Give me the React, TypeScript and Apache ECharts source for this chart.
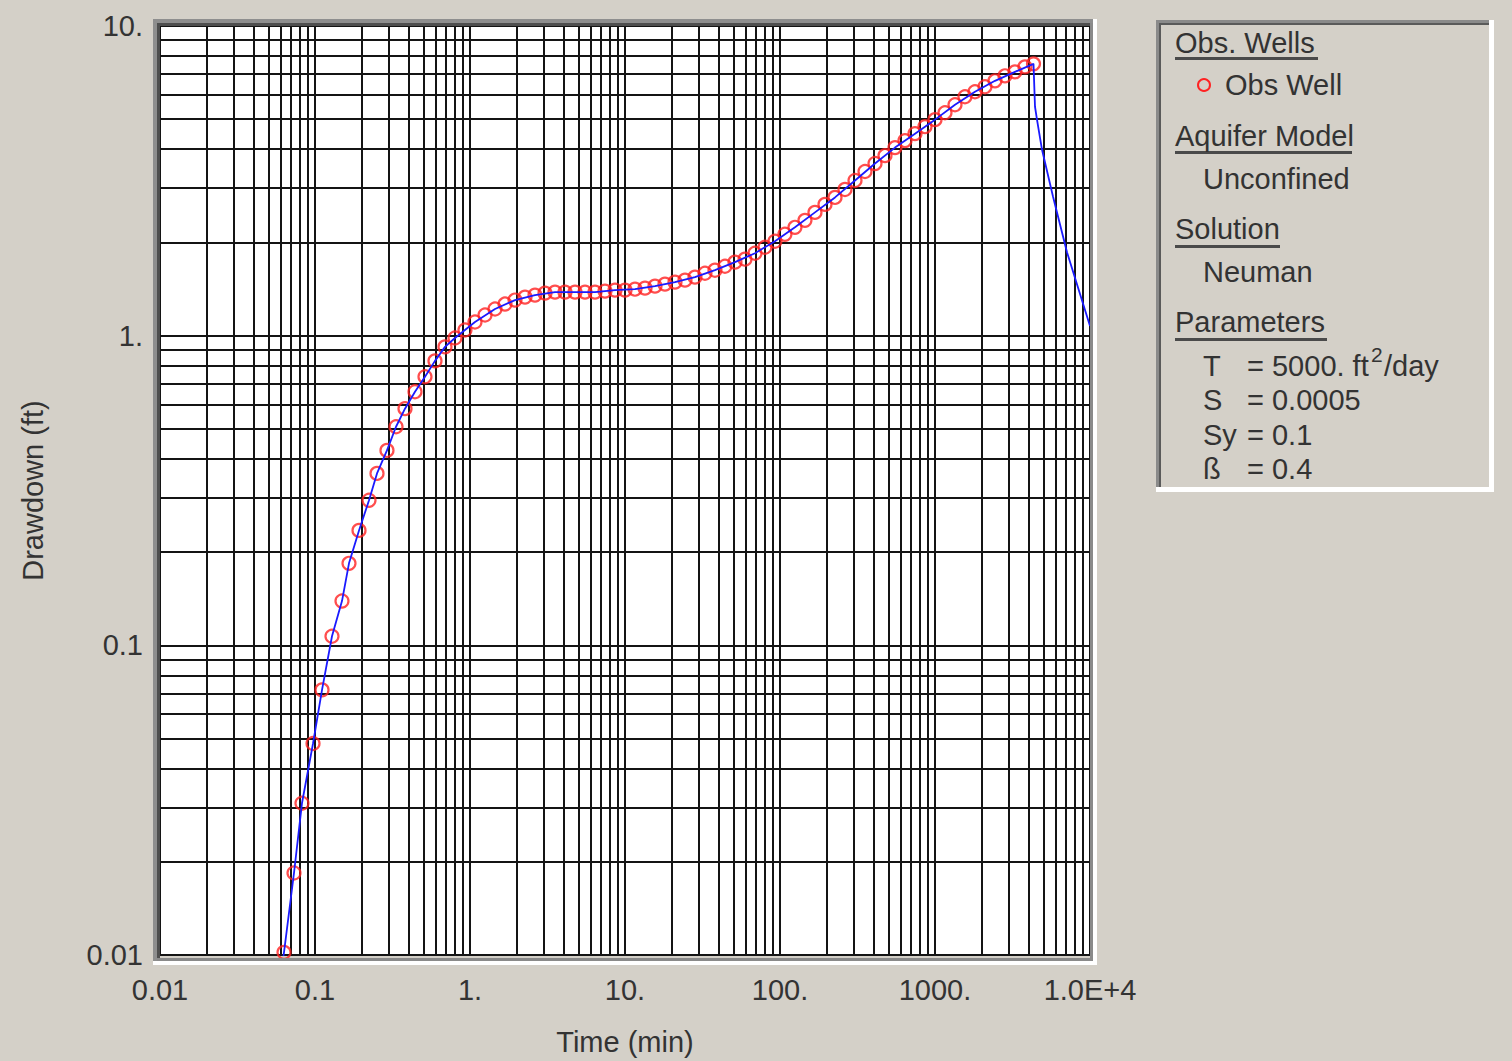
import React, { useEffect, useRef } from "react";
import * as echarts from "echarts";

// ---- data ----
const obsTime = [
  0.0631, 0.0732, 0.0824, 0.0971, 0.111, 0.1287, 0.1493, 0.1657, 0.1923, 0.2231,
  0.2512, 0.2913, 0.3332, 0.3807, 0.4417, 0.5124, 0.5945, 0.6897, 0.8, 0.928,
  1.077, 1.25, 1.45, 1.682, 1.951, 2.264, 2.626, 3.047, 3.535, 4.101,
  4.758, 5.52, 6.404, 7.429, 8.619, 10.0, 11.6, 13.46, 15.61, 18.11,
  21.01, 24.38, 28.28, 32.81, 38.06, 44.16, 51.23, 59.43, 68.94, 79.98,
  92.79, 107.6, 124.9, 144.9, 168.1, 195.1, 226.4, 262.6, 304.7, 353.5,
  410.1, 475.8, 552.0, 640.4, 742.9, 861.9, 1000, 1160, 1346, 1561,
  1811, 2101, 2438, 2828, 3281, 3806, 4320,
];
const obsDrawdown = [
  0.0102, 0.0184, 0.0309, 0.0482, 0.0718, 0.107, 0.139, 0.184, 0.235, 0.294,
  0.359, 0.426, 0.508, 0.581, 0.659, 0.737, 0.829, 0.92, 0.983, 1.043,
  1.107, 1.166, 1.219, 1.265, 1.303, 1.332, 1.352, 1.372, 1.382, 1.382,
  1.382, 1.382, 1.382, 1.393, 1.403, 1.403, 1.413, 1.424, 1.445, 1.467,
  1.489, 1.511, 1.545, 1.591, 1.627, 1.676, 1.727, 1.766, 1.846, 1.93,
  2.018, 2.125, 2.238, 2.357, 2.501, 2.654, 2.795, 2.966, 3.17, 3.389,
  3.596, 3.816, 4.049, 4.265, 4.491, 4.73, 4.984, 5.248, 5.568, 5.909,
  6.133, 6.364, 6.653, 6.904, 7.11, 7.379, 7.546,
];

// fitted Neuman curve (pumping + recovery)
const curveTime = [
  0.0618, 0.0631, 0.0732, 0.0824, 0.0971, 0.111, 0.1287, 0.1493, 0.1657, 0.1923,
  0.2231, 0.2512, 0.2913, 0.3332, 0.3807, 0.4417, 0.5124, 0.5945, 0.6897, 0.8,
  0.928, 1.077, 1.45, 1.951, 2.626, 3.535, 4.758, 6.404, 8.619, 11.6,
  15.61, 21.01, 28.28, 38.06, 51.23, 68.94, 92.79, 124.9, 168.1, 226.4,
  304.7, 410.1, 552.0, 742.9, 1000, 1346, 1811, 2438, 3281, 4320,
  4418, 4550, 4900, 5771, 7105, 10000,
];
const curveDrawdown = [
  0.0095, 0.0102, 0.0184, 0.0309, 0.0482, 0.0718, 0.107, 0.139, 0.184, 0.235,
  0.294, 0.359, 0.426, 0.508, 0.581, 0.659, 0.737, 0.829, 0.92, 0.983,
  1.043, 1.107, 1.219, 1.303, 1.352, 1.382, 1.382, 1.382, 1.403, 1.413,
  1.445, 1.489, 1.545, 1.627, 1.727, 1.846, 2.018, 2.238, 2.501, 2.795,
  3.17, 3.596, 4.049, 4.491, 4.984, 5.568, 6.133, 6.653, 7.11, 7.546,
  5.486, 4.984, 3.99, 2.816, 1.86, 1.075,
];

const xTickValues = [0.01, 0.1, 1, 10, 100, 1000, 10000];
const xTickLabels = ["0.01", "0.1", "1.", "10.", "100.", "1000.", "1.0E+4"];
const yTickValues = [0.01, 0.1, 1, 10];
const yTickLabels = ["0.01", "0.1", "1.", "10."];
const minorMultipliers = [2, 3, 4, 5, 6, 7, 8, 9];
const xDecades = [0.01, 0.1, 1, 10, 100, 1000];
const yDecades = [0.01, 0.1, 1];

const legendHeaders = ["Obs. Wells", "Aquifer Model", "Solution", "Parameters"];
const legendValues = ["Obs Well", "Unconfined", "Neuman"];

const FONT = '"Liberation Sans", Arial, "Noto Sans", sans-serif';
const TXT = "#333333";
const GRIDC = "#141414";

function lookup(values: number[], labels: string[], v: number) {
  const i = values.findIndex((t) => Math.abs(Math.log10(t) - Math.log10(v)) < 1e-6);
  return i >= 0 ? labels[i] : "";
}

export default function App() {
  const ref = useRef<HTMLDivElement>(null);

  useEffect(() => {
    if (!ref.current) return;
    const chart = echarts.init(ref.current, null, { renderer: "svg" });

    const minorLines: any[] = [];
    xDecades.forEach((d) =>
      minorMultipliers.forEach((m) => minorLines.push({ xAxis: +(d * m).toPrecision(6) }))
    );
    yDecades.forEach((d) =>
      minorMultipliers.forEach((m) => minorLines.push({ yAxis: +(d * m).toPrecision(6) }))
    );

    const text = (t: string, x: number, y: number, size = 29) => ({
      type: "text",
      z: 200,
      style: {
        text: t,
        x,
        y,
        fontSize: size,
        fontFamily: FONT,
        fill: TXT,
        verticalAlign: "middle",
        align: "left",
      },
    });
    const rect = (x: number, y: number, w: number, h: number, fill: string) => ({
      type: "rect",
      z: 150,
      shape: { x, y, width: w, height: h },
      style: { fill },
    });

    const headerPos = [
      { y: 43, w: 143, uy: 57 },
      { y: 136, w: 177, uy: 151 },
      { y: 229, w: 105, uy: 245 },
      { y: 322, w: 152, uy: 338 },
    ];

    const graphic: any[] = [
      // plot frame (3D sunken look)
      rect(153, 19, 944, 7, "#8e8e8e"),
      rect(156, 23, 940, 3, "#4e4e4e"),
      rect(153, 19, 7, 946, "#8e8e8e"),
      rect(157, 23, 3, 938, "#4e4e4e"),
      rect(157, 958, 936, 3, "#8a8a8a"),
      rect(153, 961, 944, 4, "#ffffff"),
      rect(1090, 23, 3, 938, "#8a8a8a"),
      rect(1093, 19, 4, 946, "#ffffff"),
      // legend frame
      rect(1156, 20, 338, 5, "#8a8a8a"),
      rect(1156, 20, 5, 472, "#8a8a8a"),
      rect(1159, 23, 2, 466, "#5a5a5a"),
      rect(1159, 23, 330, 2, "#5a5a5a"),
      rect(1489, 20, 5, 472, "#ffffff"),
      rect(1156, 487, 338, 5, "#ffffff"),
    ];
    legendHeaders.forEach((h, i) => {
      const p = headerPos[i];
      graphic.push(text(h, 1175, p.y));
      graphic.push(rect(1175, p.uy, p.w, 3, "#4a4a4a"));
    });
    graphic.push({
      type: "circle",
      z: 200,
      shape: { cx: 1204, cy: 85, r: 6 },
      style: { fill: "none", stroke: "#ff2222", lineWidth: 2 },
    });
    graphic.push(text(legendValues[0], 1225, 85));
    graphic.push(text(legendValues[1], 1203, 179));
    graphic.push(text(legendValues[2], 1203, 272));
    // parameters
    graphic.push(text("T", 1203, 366));
    graphic.push(text("= 5000. ft", 1247, 366));
    graphic.push(text("2", 1371, 354, 21));
    graphic.push(text("/day", 1384, 366));
    graphic.push(text("S", 1203, 400));
    graphic.push(text("= 0.0005", 1247, 400));
    graphic.push(text("Sy", 1203, 435));
    graphic.push(text("= 0.1", 1247, 435));
    graphic.push(text("ß", 1203, 469));
    graphic.push(text("= 0.4", 1247, 469));

    const option: any = {
      animation: false,
      backgroundColor: "#D4D0C8",
      grid: {
        left: 160,
        top: 26,
        width: 930,
        height: 932,
        show: true,
        backgroundColor: "#ffffff",
        borderWidth: 0,
        containLabel: false,
      },
      xAxis: {
        type: "log",
        logBase: 10,
        min: 0.01,
        max: 10000,
        splitNumber: 6,
        name: "Time (min)",
        nameLocation: "middle",
        nameGap: 72,
        nameTextStyle: { fontSize: 29, fontFamily: FONT, color: TXT },
        axisLine: { show: false },
        axisTick: { show: false },
        axisLabel: {
          fontSize: 29,
          fontFamily: FONT,
          color: TXT,
          margin: 20,
          showMinLabel: true,
          showMaxLabel: true,
          hideOverlap: false,
          formatter: (v: number) => lookup(xTickValues, xTickLabels, v),
        },
        splitLine: { show: true, lineStyle: { color: GRIDC, width: 2 } },
      },
      yAxis: {
        type: "log",
        logBase: 10,
        min: 0.01,
        max: 10,
        splitNumber: 3,
        name: "Drawdown (ft)",
        nameLocation: "middle",
        nameGap: 113,
        nameTextStyle: { fontSize: 29, fontFamily: FONT, color: TXT },
        axisLine: { show: false },
        axisTick: { show: false },
        axisLabel: {
          fontSize: 29,
          fontFamily: FONT,
          color: TXT,
          margin: 17,
          showMinLabel: true,
          showMaxLabel: true,
          hideOverlap: false,
          formatter: (v: number) => lookup(yTickValues, yTickLabels, v),
        },
        splitLine: { show: true, lineStyle: { color: GRIDC, width: 2 } },
      },
      series: [
        {
          name: "Obs Well",
          type: "scatter",
          z: 10,
          symbol: "circle",
          symbolSize: 13,
          itemStyle: { color: "rgba(255,255,255,0)", borderColor: "#ff2222", borderWidth: 2.2 },
          data: obsTime.map((t, i) => [t, obsDrawdown[i]]),
          markLine: {
            silent: true,
            symbol: ["none", "none"],
            label: { show: false },
            emphasis: { disabled: true },
            lineStyle: { color: GRIDC, width: 2, type: "solid" },
            data: minorLines,
          },
        },
        {
          name: "Neuman",
          type: "line",
          z: 11,
          showSymbol: false,
          symbol: "none",
          clip: true,
          lineStyle: { color: "#1a1aff", width: 1.8 },
          data: curveTime.map((t, i) => [t, curveDrawdown[i]]),
        },
      ],
      graphic,
    };

    chart.setOption(option);
    return () => chart.dispose();
  }, []);

  return (
    <div
      style={{
        position: "fixed",
        left: 0,
        top: 0,
        width: 1512,
        height: 1061,
        background: "#D4D0C8",
      }}
    >
      <div ref={ref} style={{ width: 1512, height: 1061 }} />
    </div>
  );
}
